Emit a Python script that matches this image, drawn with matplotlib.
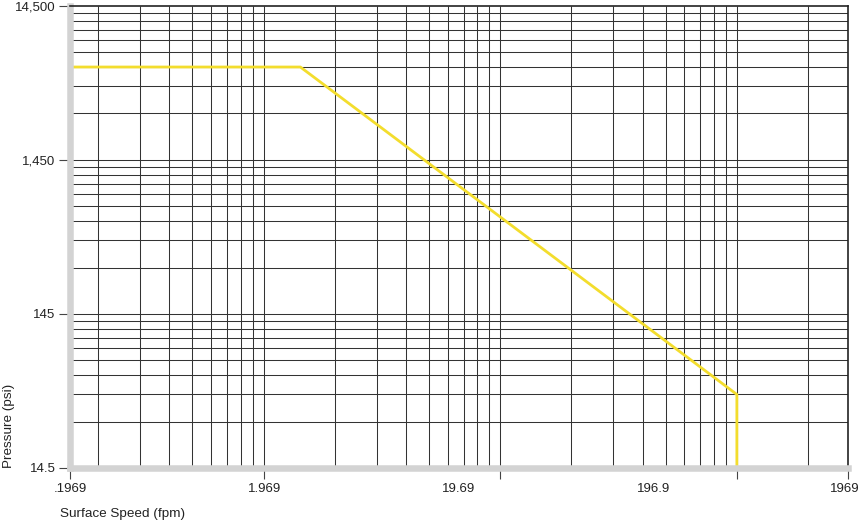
import numpy as np
import matplotlib.pyplot as plt
from matplotlib.ticker import LogLocator, FixedLocator, NullLocator, NullFormatter, FuncFormatter

plt.rcParams['font.family'] = ['Liberation Sans', 'DejaVu Sans']

# x runs on the chart's own log grid (its decade lines sit at 1, 10, 100);
# the printed fpm labels are simply spread evenly along the axis
speed_range = (0.152, 295.0)
speed_ticks = [0.152, 1, 10, 100, 295.0]
speed_labels = ['.1969', '1.969', '19.69', '196.9', '1969']

# y in psi, grid follows whole bar values (1 bar = 14.5 psi)
BAR = 14.5
pressure_range = (14.5, 14500)
pressure_ticks = [14.5, 145, 1450, 14500]

# limit curve
limit_speed = [0.152, 1.43, 100, 100]
limit_pressure = [5800, 5800, 43.5, 14.5]

GRID = '#333333'
SPINE_GRAY = '#d3d3d3'
YELLOW = '#f3dd2d'
TEXT = '#222222'

fig = plt.figure(figsize=(8.6, 5.23), dpi=100)
ax = fig.add_axes([0.0814, 0.1052, 0.9047, 0.8839])
ax.set_xscale('log')
ax.set_yscale('log')
ax.set_xlim(speed_range)
ax.set_ylim(pressure_range)

# grid lines: 1..9 per decade
subs = np.arange(1, 10)
grid_x = LogLocator(base=10, subs=subs).tick_values(*speed_range)
grid_x = grid_x[(grid_x > speed_range[0]) & (grid_x < speed_range[1])]
grid_y = BAR * LogLocator(base=10, subs=subs).tick_values(1, 1000)
grid_y = grid_y[(grid_y > pressure_range[0]) & (grid_y < pressure_range[1])]
ax.vlines(grid_x, *pressure_range, color=GRID, lw=0.75, zorder=1)
ax.hlines(grid_y, *speed_range, color=GRID, lw=0.75, zorder=1)

ax.plot(limit_speed, limit_pressure, color=YELLOW, lw=2.0, zorder=2)

# spines
for side in ['left', 'bottom']:
    ax.spines[side].set_color(SPINE_GRAY)
    ax.spines[side].set_linewidth(4.7)
for side in ['top', 'right']:
    ax.spines[side].set_color('#222222')
    ax.spines[side].set_linewidth(1.2)

# ticks
ax.xaxis.set_major_locator(FixedLocator(speed_ticks))
ax.xaxis.set_major_formatter(NullFormatter())
ax.xaxis.set_minor_locator(NullLocator())
ax.yaxis.set_major_locator(FixedLocator(pressure_ticks))
ax.yaxis.set_major_formatter(FuncFormatter(lambda v, _: format(v, ',g')))
ax.yaxis.set_minor_locator(NullLocator())
ax.tick_params(which='major', length=8, width=0.8, color='#444444',
               direction='out', labelsize=9.5, pad=2.5, labelcolor=TEXT)

# fpm labels, evenly spread; the last one kept inside the figure
fracs = np.linspace(0, 1, len(speed_labels))
for i, (frac, lab) in enumerate(zip(fracs, speed_labels)):
    last = i == len(speed_labels) - 1
    ax.text(frac + (0.0145 if last else 0), -0.033, lab, transform=ax.transAxes,
            ha='right' if last else 'center', va='top', fontsize=9.5, color=TEXT)

ax.set_xlabel('Surface Speed (fpm)', loc='left', fontsize=9.7, color=TEXT)
ax.xaxis.set_label_coords(-0.013, -0.086)
ax.set_ylabel('Pressure (psi)', loc='bottom', fontsize=9.7, color=TEXT)
ax.yaxis.set_label_coords(-0.071, 0)

fig.savefig('out.png', dpi=100)
